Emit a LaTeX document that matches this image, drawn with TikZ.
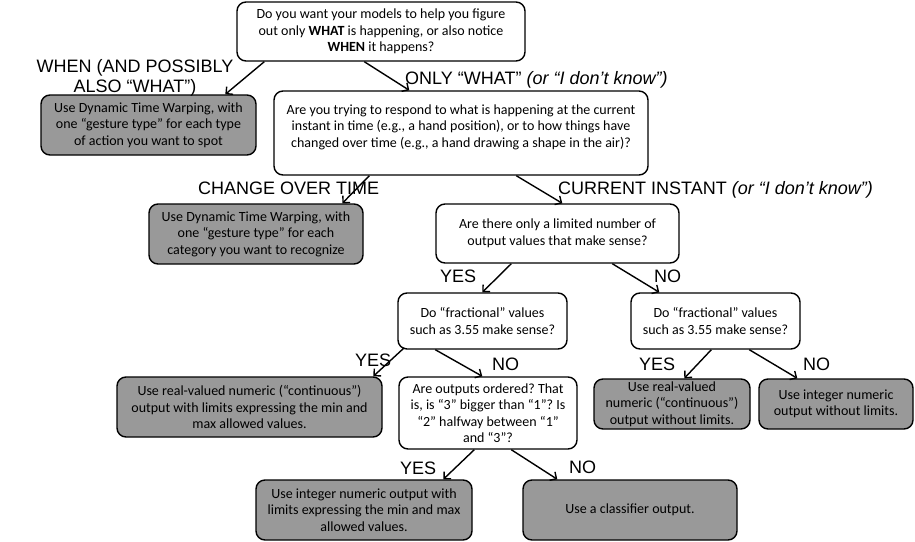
\documentclass[tikz,border=0pt]{standalone}
\usepackage{fontspec}
\newfontfamily\calfont{Carlito}
\newfontfamily\arialfont{Liberation Sans}
\usetikzlibrary{arrows.meta}
\definecolor{answergray}{RGB}{153,153,153}
\frenchspacing
\tikzset{
  question/.style={draw, line width=1.4pt, rounded corners=9pt, fill=white, align=center,
    inner sep=0pt, font=\calfont\fontsize{14}{16.5}\selectfont},
  answer/.style={question, fill=answergray},
  boxsize/.style 2 args={minimum width=#1pt, minimum height=#2pt},
  choice/.style={anchor=base west, inner sep=0pt, font=\arialfont\fontsize{18}{20}\selectfont},
  flow/.style={-{Straight Barb[length=5pt,width=10pt]}, line width=1.4pt}
}
\begin{document}
\begin{tikzpicture}[x=1pt, y=-1pt]
  \useasboundingbox (0,0) rectangle (915,541);

  % questions
  \node[question, boxsize={288}{59}] (whatwhen) at (381,31.5)
    {Do you want your models to help you figure\\out only \textbf{WHAT} is happening, or also notice\\\textbf{WHEN} it happens?};
  \node[question, boxsize={374}{84}] (instant) at (461,133)
    {Are you trying to respond to what is happening at the current\\instant in time (e.g., a hand position), or to how things have\\changed over time (e.g., a hand drawing a shape in the air)?\\[-2pt]\mbox{}};
  \node[question, boxsize={243}{59}] (limited) at (557.5,233.5)
    {Are there only a limited number of\\output values that make sense?};
  \node[question, boxsize={169}{56}] (fracL) at (482.5,321)
    {Do “fractional” values\\such as 3.55 make sense?};
  \node[question, boxsize={169}{56}] (fracR) at (715.5,321)
    {Do “fractional” values\\such as 3.55 make sense?};
  \node[question, boxsize={178}{72}] (ordered) at (488,413)
    {Are outputs ordered? That\\is, is “3” bigger than “1”? Is\\“2” halfway between “1”\\and “3”?};

  % answers
  \node[answer, boxsize={215}{60}] (dtwWhen) at (148.5,125)
    {Use Dynamic Time Warping, with\\one “gesture type” for each type\\of action you want to spot};
  \node[answer, boxsize={214}{60}] (dtwChange) at (256,234)
    {Use Dynamic Time Warping, with\\one “gesture type” for each\\category you want to recognize};
  \node[answer, boxsize={265}{60}] (realLim) at (249.5,407)
    {Use real-valued numeric (“continuous”)\\output with limits expressing the min and\\max allowed values.};
  \node[answer, boxsize={156}{50}] (realFree) at (672,404)
    {Use real-valued\\numeric (“continuous”)\\output without limits.};
  \node[answer, boxsize={154}{50}] (intFree) at (836,404)
    {Use integer numeric\\output without limits.};
  \node[answer, boxsize={216}{60}] (intLim) at (364,510)
    {Use integer numeric output with\\limits expressing the min and max\\allowed values.};
  \node[answer, boxsize={214}{60}] (classify) at (630,510)
    {Use a classifier output.};

  % branch labels
  \node[choice, anchor=center, align=center] (whenLbl) at (135,78)
    {WHEN (AND POSSIBLY\\ALSO “WHAT”)};
  \foreach \n/\x/\y/\txt in {
      whatLbl/405/84/{ONLY “WHAT” \textit{(or “I don’t know”)}},
      changeLbl/198/194/{CHANGE OVER TIME},
      currentLbl/558/194/{CURRENT INSTANT \textit{(or “I don’t know”)}},
      yesA/440/282/YES, noA/654/282/NO,
      yesB/355/366/YES, noB/492/370/NO,
      yesC/639/370/YES, noC/803/370/NO,
      yesD/400/474/YES, noD/569/473/NO}
    \node[choice] (\n) at (\x,\y) {\txt};

  % connectors
  \draw[flow] ([xshift=28pt]whatwhen.south west) -- ([xshift=185pt]dtwWhen.north west);
  \draw[flow] ([xshift=128pt]whatwhen.south west) -- ([xshift=136pt]instant.north west);
  \draw[flow] ([xshift=96pt]instant.south west) -- ([xshift=194pt]dtwChange.north west);
  \draw[flow] ([xshift=243pt]instant.south west) -- ([xshift=127pt]limited.north west);
  \draw[flow] ([xshift=76pt]limited.south west) -- ([xshift=85pt]fracL.north west);
  \draw[flow] ([xshift=177pt]limited.south west) -- ([xshift=29pt]fracR.north west);
  \draw[flow] ([xshift=7pt,yshift=2pt]fracL.south west) -- ([xshift=257pt]realLim.north west);
  \draw[flow] ([xshift=38pt]fracL.south west) -- ([xshift=84pt]ordered.north west);
  \draw[flow] ([xshift=81pt]fracR.south west) -- ([xshift=91pt]realFree.north west);
  \draw[flow] ([xshift=119pt]fracR.south west) -- ([xshift=39pt]intFree.north west);
  \draw[flow] ([xshift=76pt]ordered.south west) -- ([xshift=188pt]intLim.north west);
  \draw[flow] ([xshift=113pt]ordered.south west) -- ([xshift=35pt]classify.north west);
\end{tikzpicture}
\end{document}
